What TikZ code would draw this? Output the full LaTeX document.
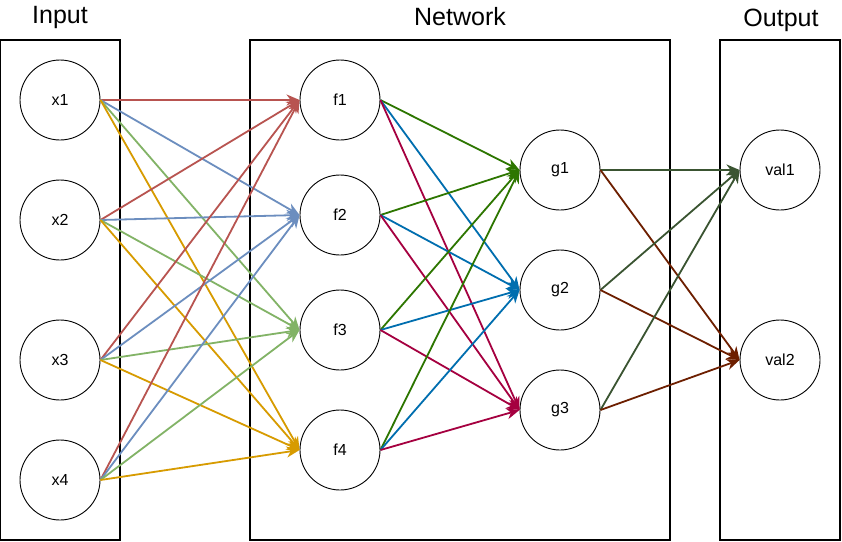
\documentclass[tikz,border=0pt]{standalone}
\usepackage{fontspec}
\setmainfont{Liberation Sans}
\usetikzlibrary{arrows.meta}
\definecolor{cRed}{HTML}{B85450}
\definecolor{cBlue}{HTML}{6C8EBF}
\definecolor{cGreen}{HTML}{82B366}
\definecolor{cOrange}{HTML}{D79B00}
\definecolor{nGreen}{HTML}{2D7600}
\definecolor{nBlue}{HTML}{006EAF}
\definecolor{nCrimson}{HTML}{A50040}
\definecolor{oGreen}{HTML}{3A5431}
\definecolor{oBrown}{HTML}{6D1F00}
\begin{document}
\begin{tikzpicture}[x=1pt,y=-1pt,
  neuron/.style={circle,draw,line width=0.9pt,fill=white,minimum size=80pt,inner sep=0pt,font=\fontsize{16}{19}\selectfont},
  panel/.style={draw,line width=1.1pt},
  title/.style={font=\fontsize{25}{29}\selectfont,inner sep=0pt},
  conn/.style={line width=1.8pt,-{Stealth[length=13pt,width=11pt,inset=4pt]}}]
\useasboundingbox (0,0) rectangle (842,541);
\fill[white] (0,0) rectangle (842,541);
% panels
\draw[panel] (0,40) rectangle (120,540);
\draw[panel] (250,40) rectangle (670,540);
\draw[panel] (720,40) rectangle (840,540);
% titles
\node[title] (tIn) at (60,17) {Input};
\node[title] (tNet) at (460,17) {Network};
\node[title] (tOut) at (781,20) {Output};
% neurons
\node[neuron] (x1) at (60,100) {x1};
\node[neuron] (x2) at (60,220) {x2};
\node[neuron] (x3) at (60,360) {x3};
\node[neuron] (x4) at (60,480) {x4};
\node[neuron] (f1) at (340,100) {f1};
\node[neuron] (f2) at (340,215) {f2};
\node[neuron] (f3) at (340,330) {f3};
\node[neuron] (f4) at (340,450) {f4};
\node[neuron] (g1) at (560,170) {g1};
\node[neuron] (g2) at (560,290) {g2};
\node[neuron] (g3) at (560,410) {g3};
\node[neuron] (v1) at (780,170) {val1};
\node[neuron] (v2) at (780,360) {val2};
% input -> f
\foreach \s in {x1,x2,x3,x4}{
  \draw[conn,draw=cRed,fill=cRed] (\s.east) -- (f1.west);
  \draw[conn,draw=cBlue,fill=cBlue] (\s.east) -- (f2.west);
  \draw[conn,draw=cGreen,fill=cGreen] (\s.east) -- (f3.west);
  \draw[conn,draw=cOrange,fill=cOrange] (\s.east) -- (f4.west);
}
% f -> g
\foreach \s in {f1,f2,f3,f4}{
  \draw[conn,draw=nGreen,fill=nGreen] (\s.east) -- (g1.west);
  \draw[conn,draw=nBlue,fill=nBlue] (\s.east) -- (g2.west);
  \draw[conn,draw=nCrimson,fill=nCrimson] (\s.east) -- (g3.west);
}
% g -> val
\foreach \s in {g1,g2,g3}{
  \draw[conn,draw=oGreen,fill=oGreen] (\s.east) -- (v1.west);
  \draw[conn,draw=oBrown,fill=oBrown] (\s.east) -- (v2.west);
}
\end{tikzpicture}
\end{document}
